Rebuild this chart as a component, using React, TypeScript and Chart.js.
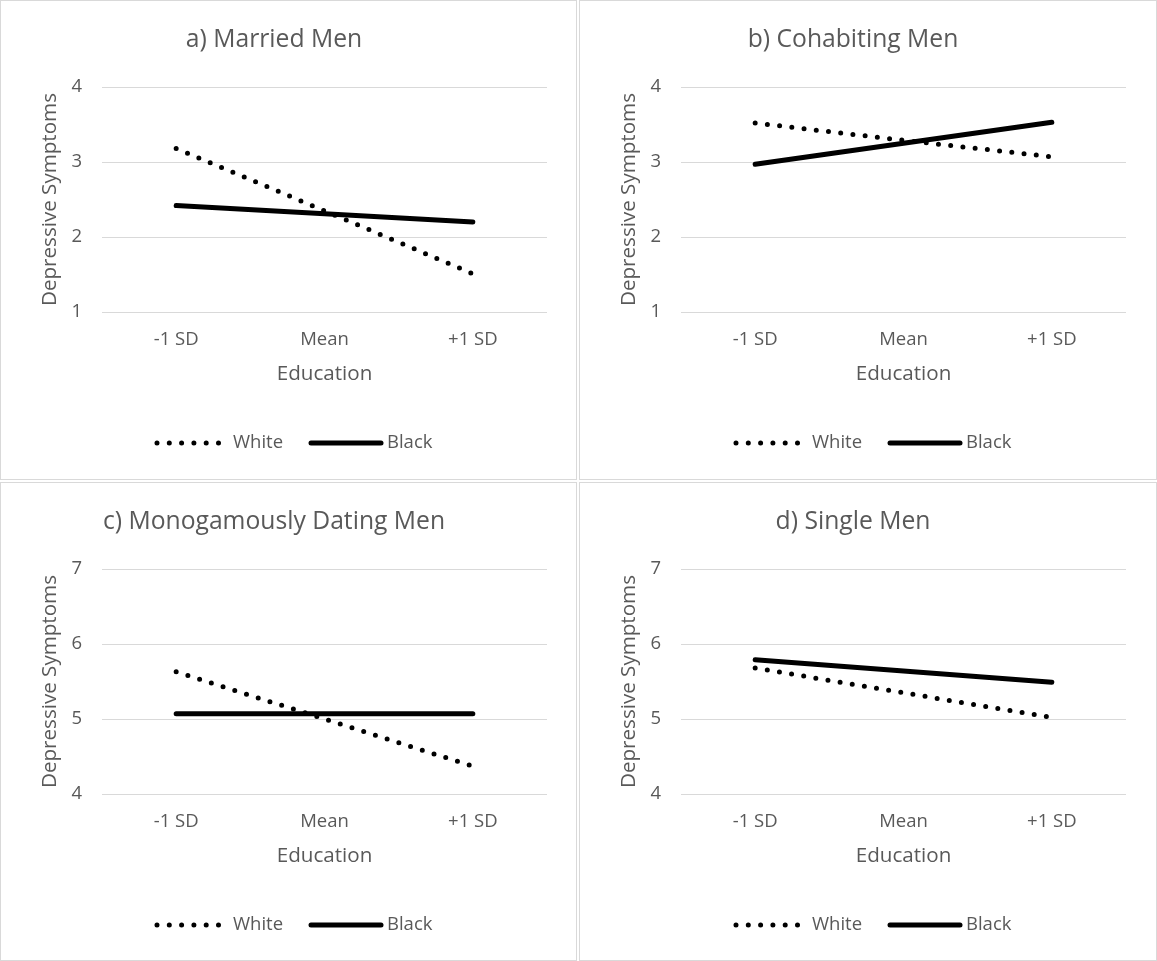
import React, { useEffect, useRef } from "react";
import { Chart, registerables } from "chart.js";

Chart.register(...registerables);

const categories = ["-1 SD", "Mean", "+1 SD"];
const seriesNames = ["White", "Black"];

const titles = [
  "a) Married Men",
  "b) Cohabiting Men",
  "c) Monogamously Dating Men",
  "d) Single Men",
];

const marriedWhite = [3.18, 2.35, 1.51];
const marriedBlack = [2.42, 2.31, 2.2];
const cohabitingWhite = [3.52, 3.29, 3.07];
const cohabitingBlack = [2.97, 3.25, 3.53];
const datingWhite = [5.63, 5.0, 4.37];
const datingBlack = [5.07, 5.07, 5.07];
const singleWhite = [5.68, 5.35, 5.02];
const singleBlack = [5.79, 5.64, 5.49];

const topAxisRange = [1, 4];
const bottomAxisRange = [4, 7];

const xAxisTitle = "Education";
const yAxisTitle = "Depressive Symptoms";

const FONT = "'Open Sans', sans-serif";
const TEXT = "#595959";
const GRID = "#d9d9d9";

const TICK_SIZE = 18.5;
const AXIS_TITLE_SIZE = 20.6;
const TITLE_SIZE = 24.7;

const legendPlugin = {
  id: "customLegend",
  afterDraw(chart: any) {
    const ctx = chart.ctx;
    const cx = chart.width / 2;
    const y = 442;
    ctx.save();
    ctx.strokeStyle = "#000";
    ctx.lineCap = "round";
    ctx.lineWidth = 5;
    ctx.setLineDash([0, 12.3]);
    ctx.beginPath();
    ctx.moveTo(cx - 131.5, y);
    ctx.lineTo(cx - 69, y);
    ctx.stroke();
    ctx.setLineDash([]);
    ctx.fillStyle = TEXT;
    ctx.font = TICK_SIZE + "px " + FONT;
    ctx.textBaseline = "middle";
    ctx.textAlign = "left";
    ctx.fillText(seriesNames[0], cx - 55.5, y);
    ctx.beginPath();
    ctx.moveTo(cx + 22.5, y);
    ctx.lineTo(cx + 92.5, y);
    ctx.stroke();
    ctx.fillText(seriesNames[1], cx + 98.5, y);
    ctx.restore();
  },
};

function Panel(props: {
  title: string;
  white: number[];
  black: number[];
  range: number[];
}) {
  const ref = useRef<HTMLCanvasElement>(null);
  useEffect(() => {
    const canvas = ref.current!;
    const chart = new Chart(canvas, {
      type: "line",
      data: {
        labels: categories,
        datasets: [
          {
            label: seriesNames[0],
            data: props.white,
            borderColor: "#000",
            borderWidth: 5,
            borderDash: [0, 12.3],
            borderCapStyle: "round",
            pointRadius: 0,
            fill: false,
            tension: 0,
          },
          {
            label: seriesNames[1],
            data: props.black,
            borderColor: "#000",
            borderWidth: 5,
            borderCapStyle: "round",
            pointRadius: 0,
            fill: false,
            tension: 0,
          },
        ],
      },
      options: {
        animation: false,
        responsive: false,
        devicePixelRatio: 1,
        layout: { padding: { left: 0, right: 29, top: 0, bottom: 60 } },
        plugins: {
          legend: { display: false },
          tooltip: { enabled: false },
          title: {
            display: true,
            text: props.title,
            color: TEXT,
            font: { family: FONT, size: TITLE_SIZE, weight: "normal", lineHeight: 1.2 },
            padding: { top: 24.2, bottom: 32.2 },
          },
        },
        scales: {
          x: {
            offset: true,
            grid: { display: false, drawTicks: false },
            border: { display: false },
            ticks: {
              color: TEXT,
              font: { family: FONT, size: TICK_SIZE },
              padding: 17,
            },
            title: {
              display: true,
              text: xAxisTitle,
              color: TEXT,
              font: { family: FONT, size: AXIS_TITLE_SIZE },
              padding: { top: 10, bottom: 32.6 },
            },
            afterFit(scale: any) {
              scale.height = 478 - 311 - 60;
            },
          },
          y: {
            min: props.range[0],
            max: props.range[1],
            ticks: {
              stepSize: 1,
              color: TEXT,
              font: { family: FONT, size: TICK_SIZE },
              padding: 20,
            },
            grid: { color: GRID, lineWidth: 1, drawTicks: false },
            border: { display: false },
            title: {
              display: true,
              text: yAxisTitle,
              color: TEXT,
              font: { family: FONT, size: AXIS_TITLE_SIZE },
              padding: { top: 36.5, bottom: 0 },
            },
            afterFit(scale: any) {
              scale.width = 101;
            },
          },
        },
      },
      plugins: [legendPlugin],
    });
    return () => chart.destroy();
  }, []);
  return <canvas ref={ref} width={575} height={478} style={{ display: "block" }} />;
}

const boxes = [
  { left: 0, top: 0, width: 577, height: 480 },
  { left: 579, top: 0, width: 578, height: 480 },
  { left: 0, top: 482, width: 577, height: 479 },
  { left: 579, top: 482, width: 578, height: 479 },
];

export default function App() {
  useEffect(() => {
    document.body.style.margin = "0";
    document.body.style.background = "#fff";
  }, []);
  const panels = [
    { white: marriedWhite, black: marriedBlack, range: topAxisRange },
    { white: cohabitingWhite, black: cohabitingBlack, range: topAxisRange },
    { white: datingWhite, black: datingBlack, range: bottomAxisRange },
    { white: singleWhite, black: singleBlack, range: bottomAxisRange },
  ];
  return (
    <div style={{ position: "relative", width: 1157, height: 961, background: "#fff" }}>
      {panels.map((p, i) => (
        <div
          key={i}
          style={{
            position: "absolute",
            left: boxes[i].left,
            top: boxes[i].top,
            width: boxes[i].width,
            height: boxes[i].height,
            boxSizing: "border-box",
            border: "1px solid " + GRID,
            overflow: "hidden",
          }}
        >
          <Panel title={titles[i]} white={p.white} black={p.black} range={p.range} />
        </div>
      ))}
    </div>
  );
}
